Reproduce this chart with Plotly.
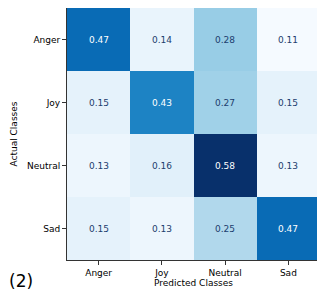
import plotly.graph_objects as go

classes = ["Anger", "Joy", "Neutral", "Sad"]
values = [
    [0.47, 0.14, 0.28, 0.11],
    [0.15, 0.43, 0.27, 0.15],
    [0.13, 0.16, 0.58, 0.13],
    [0.15, 0.13, 0.25, 0.47],
]

blues = [
    [0.0, "#f5faff"], [0.125, "#deeef9"], [0.25, "#c3e0f1"], [0.375, "#93cbe5"],
    [0.5, "#5db1db"], [0.625, "#2c93cd"], [0.75, "#0a6fb8"], [0.875, "#05539e"],
    [1.0, "#08306b"],
]

vmin = min(min(r) for r in values)
vmax = max(max(r) for r in values)

fig = go.Figure(go.Heatmap(
    z=values, x=classes, y=classes, colorscale=blues, zmin=vmin, zmax=vmax,
    showscale=False, xgap=0, ygap=0, hoverinfo="skip",
))

for i, row in enumerate(values):
    for j, v in enumerate(row):
        frac = (v - vmin) / (vmax - vmin)
        fig.add_annotation(
            x=classes[j], y=classes[i], text=f"{v:.2f}", showarrow=False,
            font=dict(family="DejaVu Sans", size=9,
                      color="white" if frac > 0.6 else "#1c3d6e"),
        )

fig.add_annotation(
    xref="paper", yref="paper", x=-0.237, y=-0.035, xanchor="left", yanchor="top",
    text="(2)", showarrow=False, font=dict(family="DejaVu Sans", size=17, color="black"),
)

axis_common = dict(
    showline=True, linecolor="#333333", linewidth=1, mirror=True, automargin=False,
    ticks="outside", ticklen=4, tickcolor="#333333", showgrid=False, zeroline=False,
    tickfont=dict(family="DejaVu Sans", size=9, color="black"),
)

fig.update_layout(
    width=317, height=285,
    margin=dict(l=59, r=5, t=0, b=33),
    paper_bgcolor="white", plot_bgcolor="white",
    xaxis=dict(**axis_common, title=dict(text="Predicted Classes", standoff=1,
               font=dict(family="DejaVu Sans", size=9, color="black"))),
    yaxis=dict(**axis_common, autorange="reversed",
               title=dict(text="Actual Classes", standoff=7,
                          font=dict(family="DejaVu Sans", size=9, color="black"))),
)

fig.write_html("out.html")
